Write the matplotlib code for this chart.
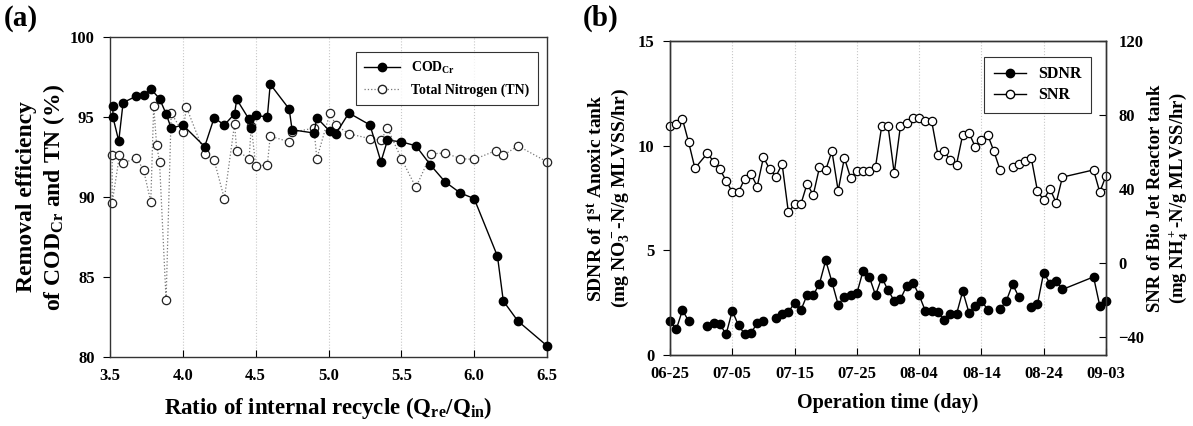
import numpy as np
import matplotlib
matplotlib.use("Agg")
import matplotlib.pyplot as plt
from matplotlib.lines import Line2D

plt.rcParams['font.family'] = ['Liberation Serif', 'DejaVu Serif']
plt.rcParams['font.weight'] = 'bold'
plt.rcParams['axes.labelweight'] = 'bold'
plt.rcParams['mathtext.fontset'] = 'custom'
plt.rcParams['mathtext.rm'] = 'Liberation Serif:bold'
plt.rcParams['mathtext.it'] = 'Liberation Serif:bold'
plt.rcParams['mathtext.bf'] = 'Liberation Serif:bold'

# (a) removal efficiency vs internal recycle ratio
cod_ratio = [3.52, 3.52, 3.56, 3.59, 3.68, 3.73, 3.78, 3.84, 3.885, 3.92, 4.0, 4.15,
             4.215, 4.285, 4.355, 4.37, 4.455, 4.47, 4.5, 4.58, 4.6, 4.73, 4.75, 4.9,
             4.92, 5.01, 5.05, 5.14, 5.285, 5.36, 5.405, 5.5, 5.6, 5.7, 5.8, 5.905,
             6.0, 6.16, 6.2, 6.3, 6.5]
cod_eff = [95.7, 95.0, 93.5, 95.9, 96.3, 96.35, 96.75, 96.15, 95.2, 94.3, 94.5, 93.15,
           94.95, 94.5, 95.2, 96.1, 94.85, 94.3, 95.1, 95.0, 97.05, 95.5, 94.2, 94.0,
           94.95, 94.1, 93.95, 95.25, 94.5, 92.2, 93.55, 93.45, 93.2, 92.0, 90.95, 90.25,
           89.9, 86.3, 83.5, 82.25, 80.7]

tn_ratio = [3.515, 3.515, 3.565, 3.59, 3.68, 3.73, 3.78, 3.80, 3.82, 3.84, 3.885, 3.92,
            4.0, 4.025, 4.15, 4.215, 4.285, 4.355, 4.37, 4.455, 4.47, 4.5, 4.58, 4.6,
            4.73, 4.75, 4.9, 4.92, 5.01, 5.05, 5.14, 5.285, 5.36, 5.405, 5.5, 5.6,
            5.705, 5.8, 5.905, 6.0, 6.15, 6.2, 6.3, 6.5]
tn_eff = [92.6, 89.65, 92.6, 92.1, 92.45, 91.7, 89.7, 95.7, 93.25, 92.2, 83.55, 95.25,
          94.05, 95.6, 92.7, 92.3, 89.9, 94.55, 92.9, 92.4, 94.45, 91.95, 92.0, 93.8,
          93.45, 94.05, 94.3, 92.4, 95.25, 94.5, 93.95, 93.65, 93.55, 94.3, 92.4, 90.6,
          92.7, 92.75, 92.4, 92.35, 92.9, 92.6, 93.2, 92.2]

# (b) SDNR / SNR over operation time (days after 06-25), nan = missing sample
sdnr_day = [0, 1, 2, 3, 4, 6, 7, 8, 9, 10, 11, 12, 13, 14, 15, 16, 17, 18, 19, 20,
            21, 22, 23, 24, 25, 26, 27, 28, 29, 30, 31, 32, 33, 34, 35, 36, 37, 38,
            39, 40, 41, 42, 43, 44, 45, 46, 47, 48, 49, 50, 51, 52, 53, 54, 55, 56,
            57, 58, 59, 60, 61, 62, 63, 68, 69, 70]
sdnr = [1.62, 1.22, 2.14, 1.62, np.nan, 1.38, 1.54, 1.49, 0.98, 2.11, 1.41, 1.0, 1.06,
        1.51, 1.63, np.nan, 1.79, 1.97, 2.05, 2.49, 2.13, 2.86, 2.86, 3.41, 4.52, 3.49,
        2.4, 2.78, 2.86, 2.94, 4.02, 3.73, 2.86, 3.70, 3.10, 2.59, 2.67, 3.30, 3.46,
        2.86, 2.10, 2.10, 2.06, 1.67, 1.98, 1.95, 3.05, 2.02, 2.35, 2.59, 2.17, np.nan,
        2.19, 2.59, 3.38, 2.78, np.nan, 2.27, 2.43, 3.94, 3.41, 3.54, 3.13, 3.73, 2.35,
        2.59]

snr_day = [0, 1, 2, 3, 4, 6, 7, 8, 9, 10, 11, 12, 13, 14, 15, 16, 17, 18, 19, 20,
           21, 22, 23, 24, 25, 26, 27, 28, 29, 30, 31, 32, 33, 34, 35, 36, 37, 38,
           39, 40, 41, 42, 43, 44, 45, 46, 47, 48, 49, 50, 51, 52, 53, 54, 55, 56,
           57, 58, 59, 60, 61, 62, 63, 68, 69, 70]
snr = [73.8, 75.0, 77.7, 65.1, 51.1, 59.2, 54.7, 50.6, 44.4, 38.2, 38.2, 45.5, 48.0,
       41.2, 57.0, 50.7, 46.6, 53.4, 27.4, 31.5, 31.5, 42.6, 36.7, 51.6, 50.2, 60.3,
       39.0, 56.7, 45.9, 49.5, 49.5, 49.5, 52.0, 74.1, 74.1, 48.4, 74.1, 75.4, 78.3,
       78.3, 76.8, 76.8, 58.5, 60.3, 55.6, 53.1, 69.3, 70.2, 62.8, 66.4, 69.3, 60.3,
       50.2, np.nan, 52.0, 53.4, 55.2, 56.7, 38.7, 34.0, 40.0, 32.4, 46.3, 50.2, 38.2,
       47.0]

date_ticks = [0, 10, 20, 30, 40, 50, 60, 70]
date_labels = ['06-25', '07-05', '07-15', '07-25', '08-04', '08-14', '08-24', '09-03']

W, H = 1193, 426
fig = plt.figure(figsize=(W / 100, H / 100), dpi=100)

def px_rect(x0, y0, x1, y1):
    return [x0 / W, 1 - y1 / H, (x1 - x0) / W, (y1 - y0) / H]

ms = 6.0
tick_fs = 12

# ---- (a)
ax1 = fig.add_axes(px_rect(110, 37, 547, 357))
for xv in [4.0, 4.5, 5.0, 5.5, 6.0]:
    ax1.axvline(xv, color='#c8c8c8', lw=0.8, ls=':', zorder=0)
ax1.plot(tn_ratio, tn_eff, ls=':', color='#777777', lw=0.9, marker='o', ms=ms,
         mfc='white', mec='#222222', mew=0.9, zorder=2, clip_on=False)
ax1.plot(cod_ratio, cod_eff, ls='-', color='black', lw=1.0, marker='o', ms=ms,
         mfc='black', mec='black', zorder=3, clip_on=False)
ax1.set_xlim(3.5, 6.5)
ax1.set_ylim(80, 100)
ax1.set_xticks(np.arange(3.5, 6.51, 0.5))
ax1.set_xticklabels(['%.1f' % v for v in np.arange(3.5, 6.51, 0.5)])
ax1.set_yticks([80, 85, 90, 95, 100])
ax1.tick_params(axis='x', direction='in', length=5, labelsize=tick_fs, pad=8)
ax1.tick_params(axis='y', direction='out', length=5, labelsize=tick_fs, pad=6)
ax1.set_xlabel('Ratio of internal recycle (Q$_{re}$/Q$_{in}$)', fontsize=16.5, labelpad=8)
ax1.set_ylabel('Removal efficiency\nof COD$_{Cr}$ and TN (%)', fontsize=17, labelpad=2)
h1 = [Line2D([], [], color='black', lw=1.0, marker='o', ms=ms, mfc='black', mec='black'),
      Line2D([], [], color='#777777', lw=0.9, ls=':', marker='o', ms=ms, mfc='white',
             mec='#222222')]
leg1 = ax1.legend(h1, ['COD$_{Cr}$', 'Total Nitrogen (TN)'], loc='upper right',
                  bbox_to_anchor=(0.995, 0.975), fontsize=10, frameon=True,
                  fancybox=False, edgecolor='black', handlelength=2.6,
                  borderpad=0.6, labelspacing=0.5)
leg1.get_frame().set_linewidth(0.8)
fig.text(4 / W, 1 - 18 / H, '(a)', fontsize=21, va='center', ha='left')

# ---- (b)
ax2 = fig.add_axes(px_rect(670, 41, 1106, 355))
for xv in date_ticks[1:-1]:
    ax2.axvline(xv, color='#c8c8c8', lw=0.8, ls=':', zorder=0)
ax2.plot(sdnr_day, sdnr, ls='-', color='black', lw=1.0, marker='o', ms=ms,
         mfc='black', mec='black', zorder=3, clip_on=False)
ax2.set_xlim(0, 70)
ax2.set_ylim(0, 15)
ax2.set_xticks(date_ticks)
ax2.set_xticklabels(date_labels)
ax2.set_yticks([0, 5, 10, 15])
ax2.tick_params(axis='x', direction='in', length=5, labelsize=tick_fs, pad=8)
ax2.tick_params(axis='y', direction='out', length=5, labelsize=tick_fs, pad=6)
ax2.set_xlabel('Operation time (day)', fontsize=14.5, labelpad=8)
ax2.set_ylabel('SDNR of 1$^{st}$ Anoxic tank\n(mg NO$_3^-$-N/g MLVSS/hr)',
               fontsize=14, labelpad=5)

ax3 = ax2.twinx()
ax3.plot(snr_day, snr, ls='-', color='black', lw=1.0, marker='o', ms=ms,
         mfc='white', mec='black', mew=0.9, zorder=2, clip_on=False)
ax3.set_ylim(-50, 120)
ax3.set_yticks([-40, 0, 40, 80, 120])
ax3.tick_params(axis='y', direction='in', length=5, labelsize=tick_fs, pad=9)
ax3.set_ylabel('SNR of Bio Jet Reactor tank\n(mg NH$_4^+$-N/g MLVSS/hr)',
               fontsize=13.5, labelpad=2)
h2 = [Line2D([], [], color='black', lw=1.0, marker='o', ms=ms, mfc='black', mec='black'),
      Line2D([], [], color='black', lw=1.0, marker='o', ms=ms, mfc='white', mec='black')]
leg2 = ax3.legend(h2, ['SDNR', 'SNR'], loc='upper right', bbox_to_anchor=(0.985, 0.975),
                  fontsize=11.5, frameon=True, fancybox=False, edgecolor='black',
                  handlelength=2.0, borderpad=0.6, labelspacing=0.3)
leg2.get_frame().set_linewidth(0.8)
fig.text(583 / W, 1 - 18 / H, '(b)', fontsize=21, va='center', ha='left')

for ax in (ax1, ax2, ax3):
    for s in ax.spines.values():
        s.set_linewidth(1.0)
        s.set_color('#333333')

fig.savefig('out.png', dpi=100)
